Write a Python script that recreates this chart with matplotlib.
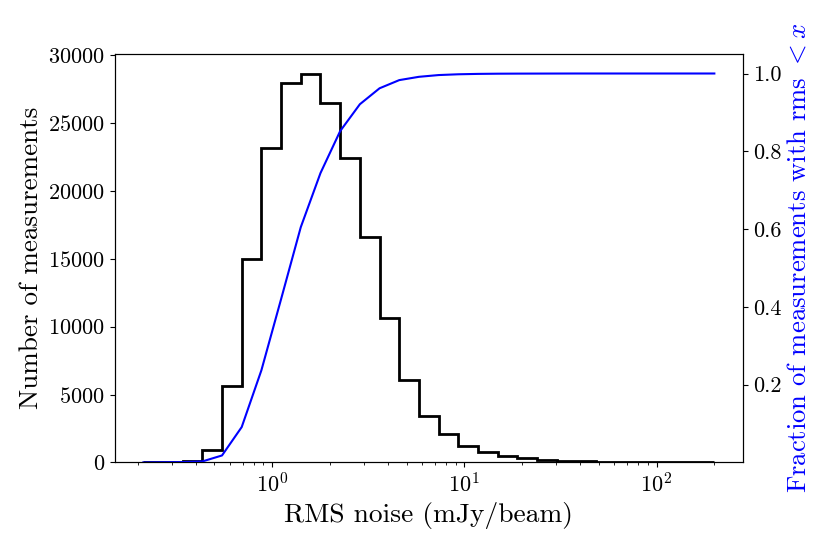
import numpy as np
import matplotlib
matplotlib.use("Agg")
import matplotlib.pyplot as plt

plt.rcParams['font.family'] = 'serif'
plt.rcParams['font.serif'] = ['cmr10', 'DejaVu Serif']
plt.rcParams['mathtext.fontset'] = 'cm'
plt.rcParams['axes.formatter.use_mathtext'] = True

# Histogram bin edges (mJy/beam), log-spaced
edge_min = 0.213
edge_max = 200.0
n_bins = 29
edges = np.logspace(np.log10(edge_min), np.log10(edge_max), n_bins + 1)

counts = [20, 50, 100, 950, 5600, 15000, 23150, 27950, 28650, 26500,
          22450, 16600, 10650, 6050, 3400, 2100, 1200, 800, 450, 300,
          200, 130, 80, 50, 35, 20, 15, 10, 5]

# Cumulative fraction read at each bin edge
cum_frac = [0.0, 0.0005, 0.001, 0.0026, 0.018, 0.091, 0.237, 0.42, 0.605, 0.744,
            0.852, 0.921, 0.962, 0.983, 0.9915, 0.996, 0.998, 0.999, 0.9995, 0.9997,
            0.9998, 0.9999, 1.0, 1.0, 1.0, 1.0, 1.0, 1.0, 1.0, 1.0]

fig = plt.figure(figsize=(8.31, 5.46), dpi=100)
ax = fig.add_axes([0.138, 0.153, 0.756, 0.748])
ax.stairs(counts, edges, color='black', lw=2)
ax.set_xscale('log')
ax.set_ylabel('Number of measurements', fontsize=19.5)
ax.set_xlabel('RMS noise (mJy/beam)', fontsize=19.8)
ax.tick_params(axis='both', labelsize=16)

ax2 = ax.twinx()
ax2.plot(edges, cum_frac, color='blue', lw=1.5)
ax2.set_ylim(0, 1.05)
ax2.set_yticks([0.2, 0.4, 0.6, 0.8, 1.0])
ax2.set_yticklabels(['0.2', '0.4', '0.6', '0.8', '1.0'])
ax2.tick_params(axis='y', labelsize=16)
ax2.set_ylabel(r'Fraction of measurements with rms $< x$', fontsize=19.2, color='blue')

fig.savefig('out.png', dpi=100)
